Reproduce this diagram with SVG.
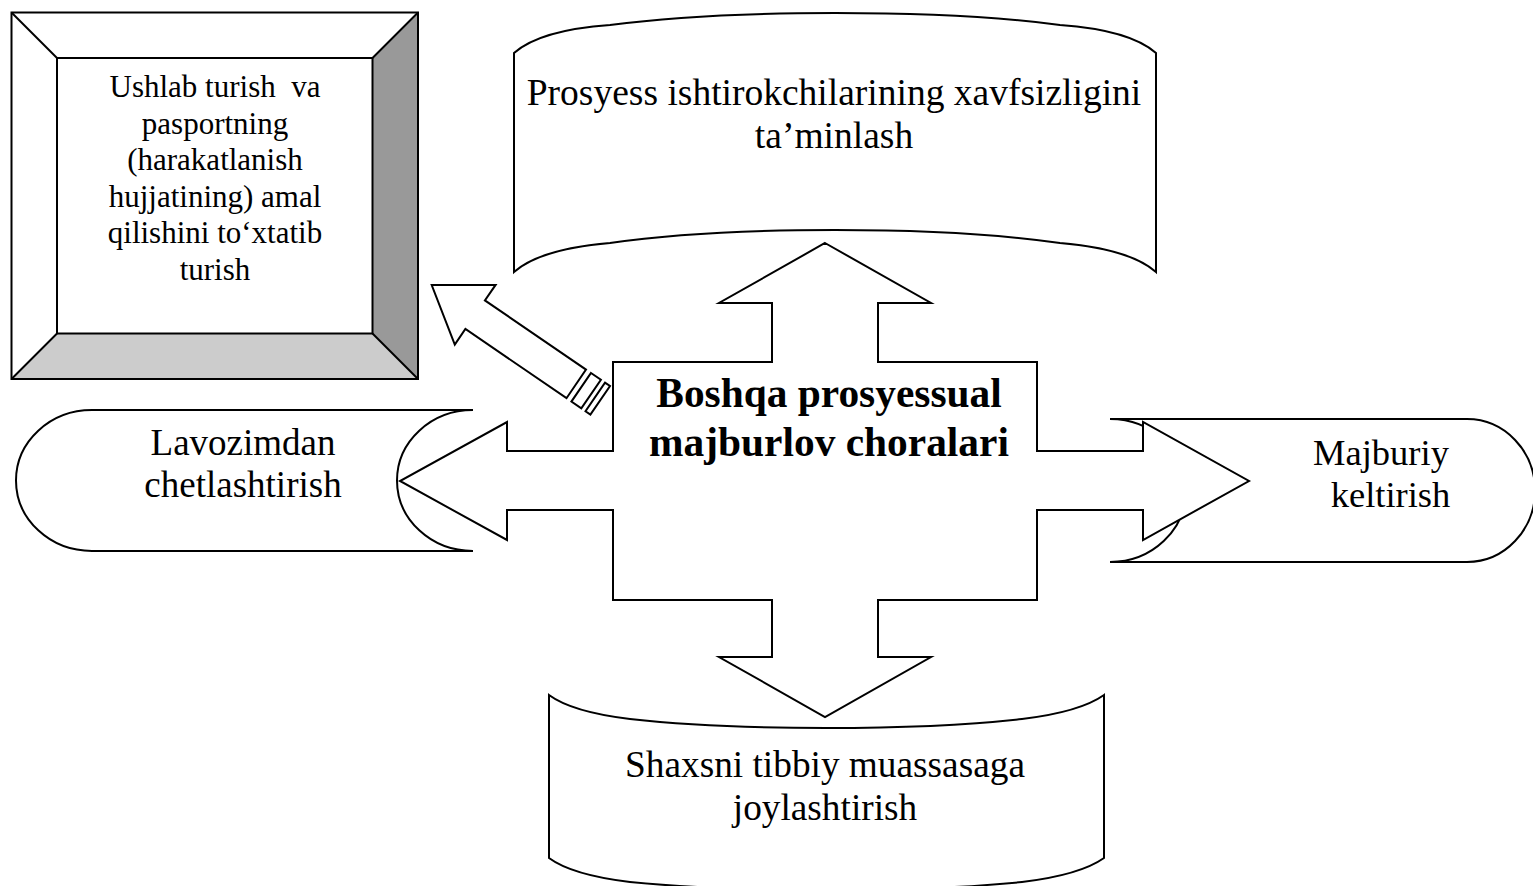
<svg xmlns="http://www.w3.org/2000/svg" width="1533" height="886" viewBox="0 0 1533 886">
<style>
.sh{fill:#fff;stroke:#000;stroke-width:2;stroke-linejoin:miter}
.t{font-family:"Liberation Serif","Times New Roman",serif;fill:#000;text-anchor:middle}
.b{font-weight:bold}
</style>
<rect x="0" y="0" width="1533" height="886" fill="#fff"/>
<g id="node-left">
<path class="sh" d="M473,410 L92,410 A76,70.5 0 0 0 92,551 L473,551 A76,70.5 0 0 1 473,410 Z"/>
<text class="t" font-size="37"><tspan x="243" y="455">Lavozimdan</tspan><tspan x="243" y="497">chetlashtirish</tspan></text>
</g>
<g id="node-right">
<path class="sh" d="M1110,419 L1467,419 A68,71.5 0 0 1 1467,562 L1110,562 A76,71.5 0 0 0 1110,419 Z"/>
<text class="t" font-size="36.5"><tspan x="1381" y="465">Majburiy</tspan><tspan x="1390.5" y="507">keltirish</tspan></text>
</g>
<g id="node-top">
<path class="sh" d="M514,53 Q540,30 610,25 Q700,13 835,13 Q970,13 1060,25 Q1130,30 1156,53 L1156,272 Q1130,249 1060,243 Q970,230 835,230 Q700,230 610,243 Q540,249 514,272 Z"/>
<text class="t" font-size="37.5"><tspan x="834" y="105">Prosyess ishtirokchilarining xavfsizligini</tspan><tspan x="834" y="148">ta’minlash</tspan></text>
</g>
<g id="node-bottom">
<path class="sh" d="M549,695 Q572,712 630,719 Q710,728 826,728 Q942,728 1022,719 Q1080,712 1104,695 L1104,858 Q1080,875 1022,882 Q942,890 826,890 Q710,890 630,882 Q572,875 549,858 Z"/>
<text class="t" font-size="37.3"><tspan x="825" y="777">Shaxsni tibbiy muassasaga</tspan><tspan x="825" y="820">joylashtirish</tspan></text>
</g>
<g id="node-bevel">
<rect x="11.5" y="12.5" width="406.5" height="366.5" fill="#fff" stroke="none"/>
<polygon points="372.5,58 418,12.5 418,379 372.5,333.5" fill="#999"/>
<polygon points="57,333.5 372.5,333.5 418,379 11.5,379" fill="#ccc"/>
<g fill="none" stroke="#000" stroke-width="2">
<rect x="11.5" y="12.5" width="406.5" height="366.5"/>
<rect x="57" y="58" width="315.5" height="275.5"/>
<line x1="11.5" y1="12.5" x2="57" y2="58"/>
<line x1="418" y1="12.5" x2="372.5" y2="58"/>
<line x1="11.5" y1="379" x2="57" y2="333.5"/>
<line x1="418" y1="379" x2="372.5" y2="333.5"/>
</g>
<text class="t" font-size="31" xml:space="preserve"><tspan x="215" y="97">Ushlab turish  va</tspan><tspan x="215" y="133.5">pasportning</tspan><tspan x="215" y="170">(harakatlanish</tspan><tspan x="215" y="206.5">hujjatining) amal</tspan><tspan x="215" y="243">qilishini to‘xtatib</tspan><tspan x="215" y="279.5">turish</tspan></text>
</g>
<g id="connectors">
<polygon class="sh" points="431.7,285 495.6,284.9 484.9,300.4 586,369.6 566.5,398.2 465.4,329 454.8,344.5"/>
<polygon class="sh" points="591,373 600.9,379.8 581.3,408.3 571.4,401.6"/>
<polygon class="sh" points="605,382.6 610,386 590.4,414.6 585.5,411.2"/>
</g>
<g id="node-center">
<polygon class="sh" points="825,243 931,303 878,303 878,362 1037,362 1037,451 1143,451 1143,422 1249,481 1143,540 1143,510 1037,510 1037,600 878,600 878,657 931,657 825,717 719,657 772,657 772,600 613,600 613,510 507,510 507,540 400,481 507,422 507,451 613,451 613,362 772,362 772,303 719,303"/>
<text class="t b" font-size="41.4"><tspan x="829" y="407">Boshqa prosyessual</tspan><tspan x="829" y="456">majburlov choralari</tspan></text>
</g>
</svg>
